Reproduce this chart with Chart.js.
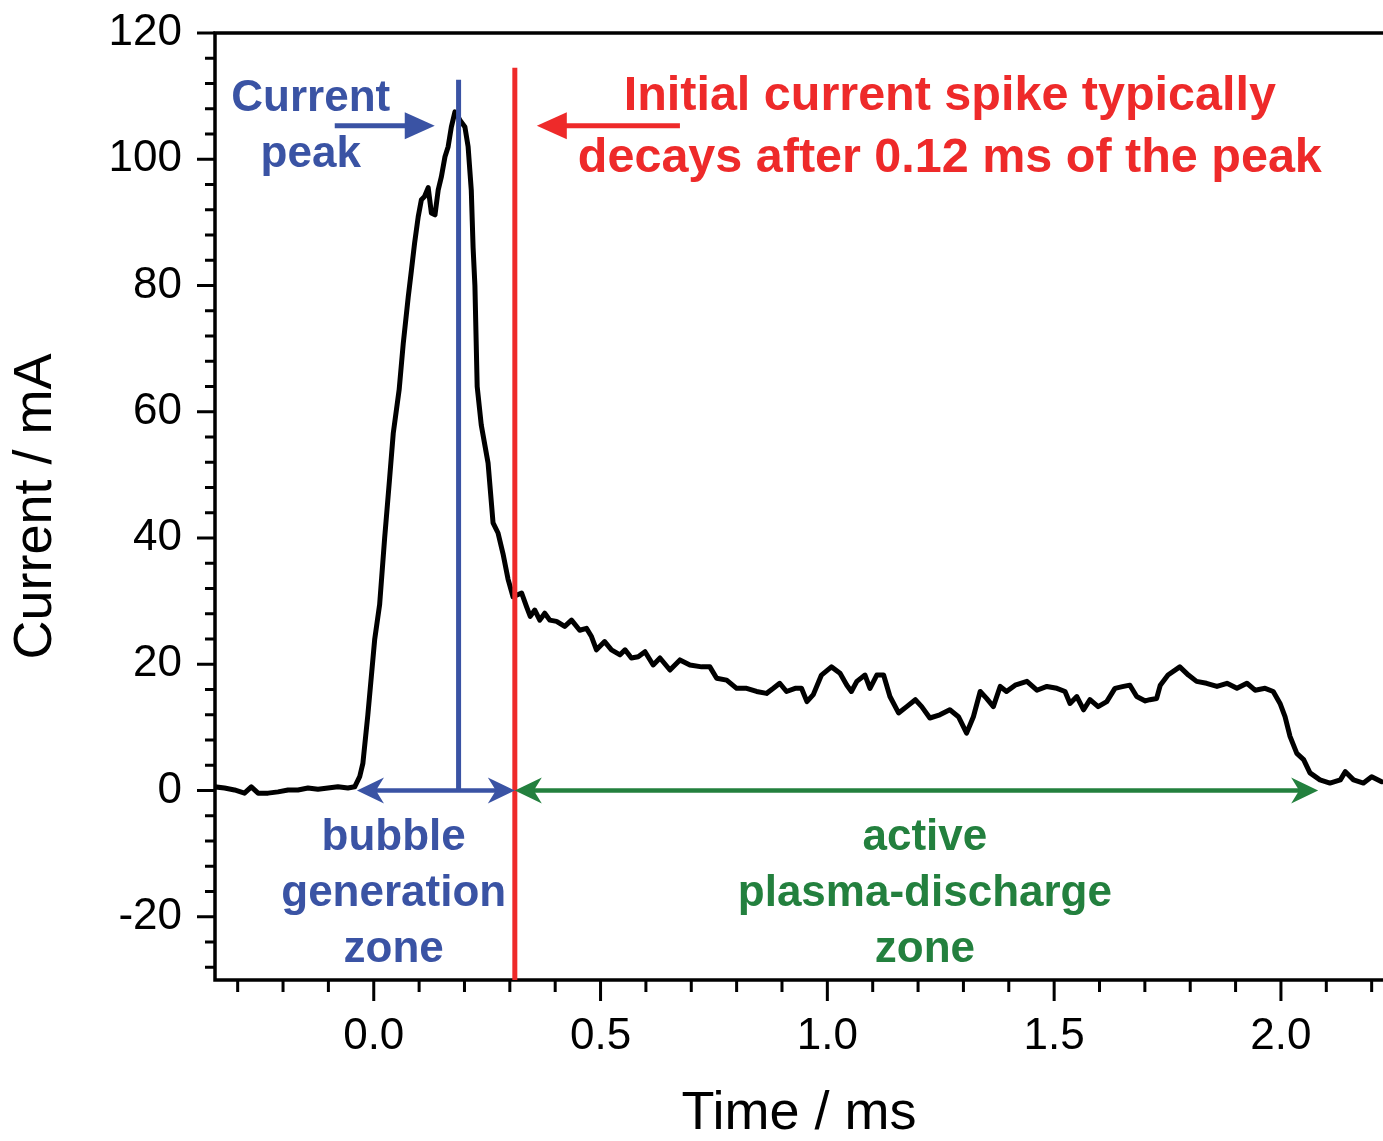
<!DOCTYPE html>
<html>
<head>
<meta charset="utf-8">
<script src="https://cdn.jsdelivr.net/npm/chart.js@4.4.0/dist/chart.umd.min.js"></script>
<style>
  body { margin: 0; background: #fff; }
</style>
</head>
<body>
<canvas id="myChart" width="1383" height="1141"></canvas>
<script>
// current trace (time in ms, current in mA)
const timeMs = [
  -0.351, -0.329, -0.307, -0.285, -0.270, -0.255, -0.233, -0.211, -0.189, -0.167,
  -0.145, -0.123, -0.101, -0.079, -0.057, -0.042, -0.031, -0.024, -0.013, 0.002,
  0.013, 0.024, 0.035, 0.043, 0.056, 0.065, 0.076, 0.083, 0.090, 0.098,
  0.105, 0.112, 0.120, 0.127, 0.135, 0.142, 0.149, 0.157, 0.164, 0.171,
  0.179, 0.190, 0.201, 0.208, 0.215, 0.219, 0.223, 0.228, 0.237, 0.252,
  0.263, 0.274, 0.285, 0.296, 0.307, 0.326, 0.337, 0.345, 0.355, 0.366,
  0.377, 0.388, 0.403, 0.421, 0.436, 0.454, 0.469, 0.480, 0.491, 0.509,
  0.524, 0.543, 0.554, 0.568, 0.583, 0.598, 0.616, 0.631, 0.653, 0.675,
  0.697, 0.723, 0.741, 0.756, 0.778, 0.800, 0.822, 0.844, 0.866, 0.881,
  0.895, 0.910, 0.929, 0.943, 0.955, 0.969, 0.987, 1.009, 1.028, 1.043,
  1.053, 1.065, 1.083, 1.094, 1.109, 1.124, 1.138, 1.157, 1.175, 1.194,
  1.208, 1.226, 1.248, 1.270, 1.289, 1.307, 1.322, 1.337, 1.351, 1.366,
  1.381, 1.395, 1.414, 1.440, 1.462, 1.484, 1.506, 1.524, 1.535, 1.550,
  1.565, 1.579, 1.597, 1.616, 1.634, 1.653, 1.667, 1.682, 1.701, 1.711,
  1.726, 1.734, 1.751, 1.777, 1.796, 1.814, 1.836, 1.859, 1.881, 1.903,
  1.925, 1.943, 1.965, 1.983, 1.998, 2.009, 2.020, 2.035, 2.050, 2.064,
  2.086, 2.108, 2.131, 2.142, 2.160, 2.182, 2.200, 2.222,
];
const currentMA = [
  0.6, 0.4, 0.1, -0.4, 0.6, -0.4, -0.4, -0.2, 0.1, 0.1,
  0.4, 0.2, 0.4, 0.6, 0.4, 0.6, 2.2, 4.3, 12.0, 23.9,
  29.5, 40.0, 49.5, 56.6, 63.5, 70.8, 78.2, 82.4, 86.7, 90.9,
  93.6, 94.1, 95.5, 91.5, 91.2, 95.1, 97.2, 100.4, 102.0, 105.1,
  107.5, 106.2, 105.1, 102.0, 95.1, 86.0, 80.0, 64.0, 57.9, 51.9,
  42.4, 40.8, 37.5, 33.5, 30.7, 31.3, 29.1, 27.6, 28.6, 27.0,
  28.1, 27.0, 26.8, 26.0, 27.0, 25.4, 25.7, 24.4, 22.3, 23.6,
  22.3, 21.5, 22.3, 21.0, 21.2, 22.0, 19.9, 21.0, 19.1, 20.7,
  19.9, 19.6, 19.6, 17.8, 17.5, 16.2, 16.2, 15.7, 15.4, 16.2,
  17.0, 15.7, 16.2, 16.2, 14.1, 15.2, 18.3, 19.6, 18.6, 16.7,
  15.7, 17.3, 18.3, 16.2, 18.3, 18.3, 14.9, 12.3, 13.3, 14.4,
  13.3, 11.5, 12.0, 12.8, 11.7, 9.1, 11.7, 15.7, 14.6, 13.3,
  16.5, 15.7, 16.7, 17.3, 15.9, 16.5, 16.2, 15.7, 13.8, 14.9,
  12.8, 14.4, 13.3, 14.1, 16.2, 16.5, 16.7, 14.9, 14.2, 14.4,
  14.6, 16.7, 18.3, 19.6, 18.3, 17.3, 17.0, 16.5, 17.0, 16.2,
  17.0, 15.9, 16.2, 15.7, 13.8, 11.7, 8.6, 5.9, 4.9, 2.8,
  1.7, 1.2, 1.7, 3.0, 1.7, 1.2, 2.2, 1.4,
];

const xMajorTicks = [0, 0.5, 1, 1.5, 2];
const yMajorTicks = [-20, 0, 20, 40, 60, 80, 100, 120];
const xMinorStep = 0.1;
const yMinorStep = 4;

// marker times (ms)
const peakTime = 0.187;
const decayTime = 0.311;
const bubbleStart = -0.037;
const plasmaEnd = 2.082;

const BLUE = "#3a53a4";
const RED = "#ee2a2a";
const GREEN = "#23803e";

Chart.defaults.font.family = "'Liberation Sans', Arial, sans-serif";
Chart.defaults.color = "#000";

const ctx = document.getElementById("myChart");

function stepTicks(scale, step) {
  const ticks = [];
  const start = Math.ceil(scale.min / step - 1e-6);
  for (let k = start; k * step <= scale.max + 1e-9; k++) {
    ticks.push({ value: Math.round(k * step * 1000) / 1000 });
  }
  scale.ticks = ticks;
}

function arrowHead(c, tipX, tipY, dir, len, half, notch) {
  c.beginPath();
  c.moveTo(tipX, tipY);
  c.lineTo(tipX - dir * len, tipY - half);
  c.lineTo(tipX - dir * (len - notch), tipY);
  c.lineTo(tipX - dir * len, tipY + half);
  c.closePath();
  c.fill();
}

function label(c, text, color, size, x, y) {
  c.fillStyle = color;
  c.font = "bold " + size + "px 'Liberation Sans', Arial, sans-serif";
  c.textAlign = "center";
  c.textBaseline = "alphabetic";
  c.fillText(text, x, y);
}

const frame = {
  id: "frame",
  afterDraw(chart) {
    const { ctx: c, chartArea: a, scales } = chart;
    const x = scales.x;
    const y = scales.y;
    c.save();

    // axis box (left, bottom, top)
    c.strokeStyle = "#000";
    c.lineWidth = 3.5;
    c.lineCap = "square";
    c.beginPath();
    c.moveTo(a.right + 4, a.top);
    c.lineTo(a.left, a.top);
    c.lineTo(a.left, a.bottom);
    c.lineTo(a.right + 4, a.bottom);
    c.stroke();

    // tick marks, major ones carry a label
    c.lineWidth = 3;
    c.lineCap = "butt";
    c.beginPath();
    x.ticks.forEach((t) => {
      const px = x.getPixelForValue(t.value);
      const len = t.label ? 21 : 12;
      c.moveTo(px, a.bottom);
      c.lineTo(px, a.bottom + len);
    });
    y.ticks.forEach((t) => {
      const py = y.getPixelForValue(t.value);
      const len = t.label ? 18 : 10;
      c.moveTo(a.left, py);
      c.lineTo(a.left - len, py);
    });
    c.stroke();

    const X = (v) => x.getPixelForValue(v);
    const Y = (v) => y.getPixelForValue(v);

    // vertical markers
    c.lineWidth = 5;
    c.strokeStyle = BLUE;
    c.beginPath();
    c.moveTo(X(peakTime), Y(112.6));
    c.lineTo(X(peakTime), Y(0));
    c.stroke();
    c.strokeStyle = RED;
    c.beginPath();
    c.moveTo(X(decayTime), Y(114.5));
    c.lineTo(X(decayTime), a.bottom);
    c.stroke();

    // "current peak" arrow
    c.lineWidth = 5;
    c.strokeStyle = BLUE;
    c.fillStyle = BLUE;
    c.beginPath();
    c.moveTo(X(-0.086), Y(105.3));
    c.lineTo(X(0.1345) - 25, Y(105.3));
    c.stroke();
    arrowHead(c, X(0.1345), Y(105.3), 1, 30, 13.5, 0);

    // red arrow pointing to the decay line
    c.strokeStyle = RED;
    c.fillStyle = RED;
    c.beginPath();
    c.moveTo(X(0.675), Y(105.3));
    c.lineTo(X(0.3595) + 25, Y(105.3));
    c.stroke();
    arrowHead(c, X(0.3595), Y(105.3), -1, 30, 13.5, 0);

    // zone arrows along zero
    c.lineWidth = 4.5;
    c.strokeStyle = BLUE;
    c.fillStyle = BLUE;
    c.beginPath();
    c.moveTo(X(bubbleStart) + 15, Y(0));
    c.lineTo(X(decayTime) - 15, Y(0));
    c.stroke();
    arrowHead(c, X(bubbleStart), Y(0), -1, 27, 13, 8);
    arrowHead(c, X(decayTime), Y(0), 1, 27, 13, 8);

    c.strokeStyle = GREEN;
    c.fillStyle = GREEN;
    c.beginPath();
    c.moveTo(X(decayTime) + 15, Y(0));
    c.lineTo(X(plasmaEnd) - 15, Y(0));
    c.stroke();
    arrowHead(c, X(decayTime), Y(0), -1, 27, 13, 8);
    arrowHead(c, X(plasmaEnd), Y(0), 1, 27, 13, 8);

    // texts
    label(c, "Current", BLUE, 44, X(-0.139), Y(107.65));
    label(c, "peak", BLUE, 44, X(-0.139), Y(98.8));
    label(c, "Initial current spike typically", RED, 48.5, X(1.27), Y(107.8));
    label(c, "decays after 0.12 ms of the peak", RED, 48.5, X(1.27), Y(98.0));
    label(c, "bubble", BLUE, 44, X(0.044), Y(-9.4));
    label(c, "generation", BLUE, 44, X(0.044), Y(-18.2));
    label(c, "zone", BLUE, 44, X(0.044), Y(-27.1));
    label(c, "active", GREEN, 44, X(1.215), Y(-9.4));
    label(c, "plasma-discharge", GREEN, 44, X(1.215), Y(-18.2));
    label(c, "zone", GREEN, 44, X(1.215), Y(-27.1));

    c.restore();
  },
};

const currentChart = new Chart(ctx, {
  type: "line",
  data: {
    datasets: [
      {
        label: "Current",
        data: timeMs.map((t, i) => ({ x: t, y: currentMA[i] })),
        borderColor: "#000",
        borderWidth: 5,
        borderJoinStyle: "round",
        borderCapStyle: "round",
        pointRadius: 0,
        tension: 0,
        fill: false,
      },
    ],
  },
  options: {
    responsive: false,
    animation: false,
    layout: { padding: { top: 33, left: 0, right: 0, bottom: 0 } },
    plugins: {
      legend: { display: false },
      tooltip: { enabled: false },
    },
    scales: {
      x: {
        type: "linear",
        min: -0.35,
        max: 2.225,
        afterBuildTicks: (scale) => stepTicks(scale, xMinorStep),
        afterFit: (scale) => {
          scale.height = 161;
          scale.paddingLeft = 0;
          scale.paddingRight = 0;
        },
        grid: { drawOnChartArea: false, drawTicks: false },
        border: { display: false },
        ticks: {
          autoSkip: false,
          maxRotation: 0,
          padding: 30,
          font: { size: 44 },
          callback: (v) => (xMajorTicks.includes(v) ? v.toFixed(1) : ""),
        },
        title: {
          display: true,
          text: "Time / ms",
          font: { size: 54, lineHeight: 1 },
          padding: 0,
        },
      },
      y: {
        type: "linear",
        min: -30,
        max: 120,
        afterBuildTicks: (scale) => stepTicks(scale, yMinorStep),
        afterFit: (scale) => {
          scale.width = 215;
          scale.paddingTop = 0;
          scale.paddingBottom = 0;
        },
        grid: { drawOnChartArea: false, drawTicks: false },
        border: { display: false },
        ticks: {
          autoSkip: false,
          padding: 33,
          font: { size: 44 },
          callback: (v) => (yMajorTicks.includes(v) ? String(v) : ""),
        },
        title: {
          display: true,
          text: "Current / mA",
          font: { size: 54, lineHeight: 1 },
          padding: { top: 9, bottom: 0 },
        },
      },
    },
  },
  plugins: [frame],
});
</script>
</body>
</html>
